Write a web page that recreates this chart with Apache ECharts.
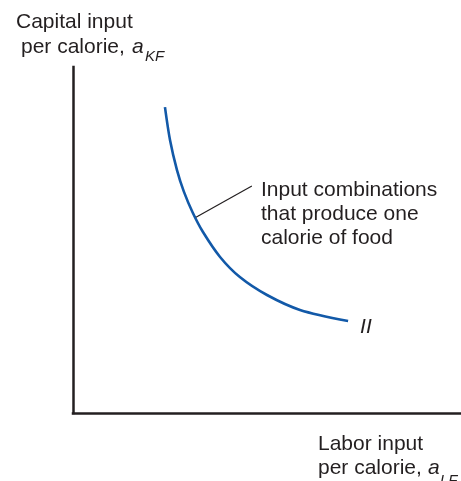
<!DOCTYPE html>
<html>
<head>
<meta charset="utf-8">
<script src="https://cdn.jsdelivr.net/npm/echarts@6/dist/echarts.min.js"></script>
<style>
  html, body { margin: 0; padding: 0; background: #fff; }
  #chart { width: 461px; height: 481px; }
</style>
</head>
<body>
<div id="chart"></div>
<script>
// isoquant for food: labor per calorie (x) vs capital per calorie (y)
const laborInput = [2.37, 2.50, 2.68, 2.86, 3.09, 3.35, 3.79, 4.30, 5.00, 5.85, 7.09];
const capitalInput = [8.84, 7.89, 7.02, 6.39, 5.78, 5.23, 4.51, 3.93, 3.41, 2.98, 2.66];
const curveName = "II";

// leader line from the curve to the note
const leaderFrom = [3.17, 5.66];
const leaderTo = [4.61, 6.56];
const noteLines = ["Input combinations", "that produce one", "calorie of food"];

const ink = "#231f20";
const blue = "#1259a8";
const family = "'Liberation Sans', Arial, sans-serif";
const font = "21px " + family;
const italic = "italic 21px " + family;
const subFont = "italic 15px " + family;

const chart = echarts.init(document.getElementById("chart"));

chart.setOption({
    animation: false,
    backgroundColor: "#fff",
    grid: { left: 73, right: 0, top: 67, bottom: 68 },
    xAxis: {
        type: "value",
        min: 0,
        max: 10,
        axisLine: { lineStyle: { color: ink, width: 2.5, cap: "square" } },
        axisTick: { show: false },
        axisLabel: { show: false },
        splitLine: { show: false }
    },
    yAxis: {
        type: "value",
        min: 0,
        max: 10,
        axisLine: { lineStyle: { color: ink, width: 2.5, cap: "square" } },
        axisTick: { show: false },
        axisLabel: { show: false },
        splitLine: { show: false }
    },
    series: [
        {
            name: curveName,
            type: "line",
            smooth: 0.3,
            symbol: "none",
            lineStyle: { color: blue, width: 2.6 },
            data: laborInput.map((x, i) => [x, capitalInput[i]]),
            endLabel: {
                show: true,
                formatter: curveName,
                fontSize: 21,
                fontStyle: "italic",
                fontFamily: family,
                color: ink,
                offset: [4, 6]
            },
            markLine: {
                silent: true,
                symbol: "none",
                label: { show: false },
                lineStyle: { color: ink, width: 1.2, type: "solid" },
                data: [[{ coord: leaderFrom }, { coord: leaderTo }]]
            }
        }
    ],
    graphic: [
        { type: "text", style: { text: "Capital input", x: 16, y: 22, font: font, fill: ink, verticalAlign: "middle" } },
        { type: "text", style: { text: "per calorie,", x: 21, y: 47, font: font, fill: ink, verticalAlign: "middle" } },
        { type: "text", style: { text: "a", x: 132, y: 47, font: italic, fill: ink, verticalAlign: "middle" } },
        { type: "text", style: { text: "KF", x: 145, y: 57, font: subFont, fill: ink, verticalAlign: "middle" } },
        { type: "text", style: { text: noteLines.join("\n"), x: 261, y: 178, font: font, fill: ink, lineHeight: 24, verticalAlign: "top" } },
        { type: "text", style: { text: "Labor input", x: 318, y: 444, font: font, fill: ink, verticalAlign: "middle" } },
        { type: "text", style: { text: "per calorie,", x: 318, y: 468, font: font, fill: ink, verticalAlign: "middle" } },
        { type: "text", style: { text: "a", x: 428, y: 468, font: italic, fill: ink, verticalAlign: "middle" } },
        { type: "text", style: { text: "LF", x: 440, y: 481, font: subFont, fill: ink, verticalAlign: "middle" } }
    ]
});
</script>
</body>
</html>
